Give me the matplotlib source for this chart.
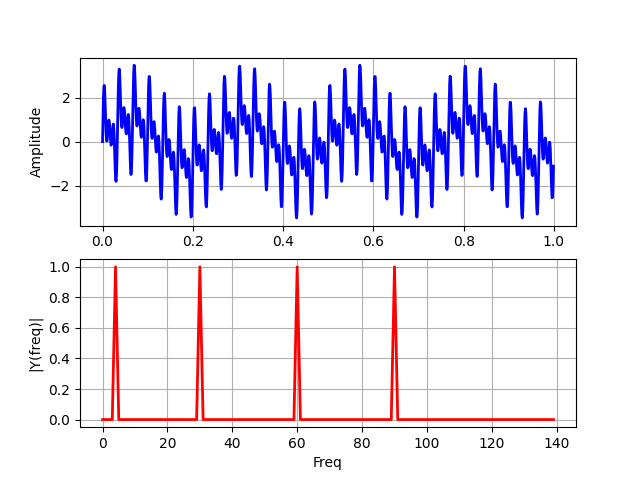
import numpy as np
import matplotlib
matplotlib.use('Agg')
import matplotlib.pyplot as plt

# Signal components (Hz, peak amplitude)
Fs = 1000.0
comp_freqs = [4, 30, 60, 90]
comp_amps = [1.0, 1.0, 1.0, 1.0]
n_bins_shown = 140

t = np.arange(0, 1, 1.0 / Fs)
y = np.zeros_like(t)
for f, a in zip(comp_freqs, comp_amps):
    y += a * np.sin(2 * np.pi * f * t)

n = len(y)
frq = np.arange(n) / (n / Fs)
Y = np.fft.fft(y) / n * 2
frq = frq[:n_bins_shown]
Y = Y[:n_bins_shown]

fig, ax = plt.subplots(2, 1, figsize=(6.4, 4.8))

ax[0].plot(t, y, 'b', linewidth=2)
ax[0].set_ylabel('Amplitude')
ax[0].grid(True)

ax[1].plot(frq, np.abs(Y), 'r', linewidth=2)
ax[1].set_xlabel('Freq')
ax[1].set_ylabel('|Y(freq)|')
ax[1].grid(True)

plt.savefig('out.png', dpi=100)
